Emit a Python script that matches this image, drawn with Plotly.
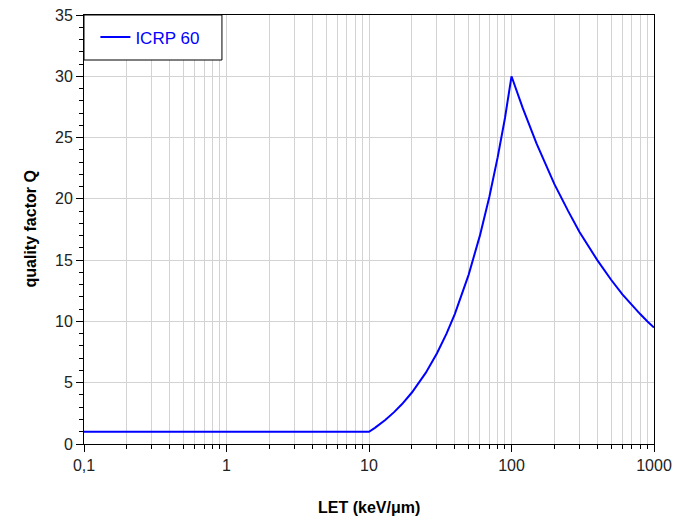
import plotly.graph_objects as go

# LET values (keV/µm) and quality factor Q
let_vals = [0.1, 1, 5, 10, 11, 12, 13, 15, 17, 20, 25, 30, 35, 40, 45, 50, 60, 70, 80, 90, 100,
            120, 150, 200, 250, 300, 400, 500, 600, 700, 800, 900, 1000]
q_vals = [1.0, 1.0, 1.0, 1.0, 1.32, 1.64, 1.96, 2.6, 3.24, 4.2, 5.8, 7.4, 9.0, 10.6, 12.2, 13.8,
          17.0, 20.2, 23.4, 26.6, 30.0,
          27.4, 24.5, 21.2, 19.0, 17.3, 15.0, 13.4, 12.2, 11.3, 10.6, 10.0, 9.5]

x_tickvals = [0.1, 1, 10, 100, 1000]
x_ticktext = ["0,1", "1", "10", "100", "1000"]
y_tickvals = [0, 5, 10, 15, 20, 25, 30, 35]

fig = go.Figure()
fig.add_trace(go.Scatter(x=let_vals, y=q_vals, mode="lines", name="ICRP 60",
                         line=dict(color="#0000ff", width=2)))

# legend frame
fig.add_shape(type="rect", xref="x domain", yref="y domain",
              x0=0, x1=0.242, y0=1 - 45 / 429, y1=1,
              line=dict(color="black", width=1), fillcolor="white", layer="above")

fig.add_annotation(text="<b>LET (keV/μm)</b>", xref="paper", yref="paper",
                   x=0.5, y=-63 / 429, xanchor="center", yanchor="middle", showarrow=False,
                   font=dict(size=16, color="black"))
fig.add_annotation(text="<b>quality factor Q</b>", xref="paper", yref="paper",
                   x=-54 / 570, y=0.5, xanchor="center", yanchor="middle", showarrow=False,
                   textangle=-90, font=dict(size=16, color="black"))

fig.update_layout(
    width=677, height=520,
    margin=dict(l=84, r=23, t=15, b=76, autoexpand=False),
    paper_bgcolor="white", plot_bgcolor="white",
    font=dict(family="Liberation Sans, Arial, sans-serif", size=16, color="#222222"),
    showlegend=True,
    legend=dict(x=0.02, y=1 - 22.5 / 429, xanchor="left", yanchor="middle",
                bgcolor="rgba(0,0,0,0)", borderwidth=0,
                font=dict(color="#0000ff", size=17, family="Liberation Sans, Arial, sans-serif")),
    xaxis=dict(type="log", range=[-1, 3], tickvals=x_tickvals, ticktext=x_ticktext,
               automargin=False,
               showline=True, linecolor="black", linewidth=1, mirror=True,
               ticks="outside", ticklen=7, tickcolor="black",
               showgrid=True, gridcolor="#d3d3d3", gridwidth=1,
               minor=dict(ticks="outside", ticklen=4, tickcolor="black", showgrid=True,
                          gridcolor="#d3d3d3", dtick="D1"),
               tickfont=dict(size=16),
               zeroline=False),
    yaxis=dict(range=[0, 35], tickvals=y_tickvals, automargin=False,
               showline=True, linecolor="black", linewidth=1, mirror=True,
               ticks="outside", ticklen=7, tickcolor="black",
               showgrid=True, gridcolor="#d3d3d3", gridwidth=1,
               minor=dict(ticks="outside", ticklen=4, tickcolor="black", dtick=1, showgrid=False),
               tickfont=dict(size=16),
               zeroline=False),
)

fig.write_html("out.html")
